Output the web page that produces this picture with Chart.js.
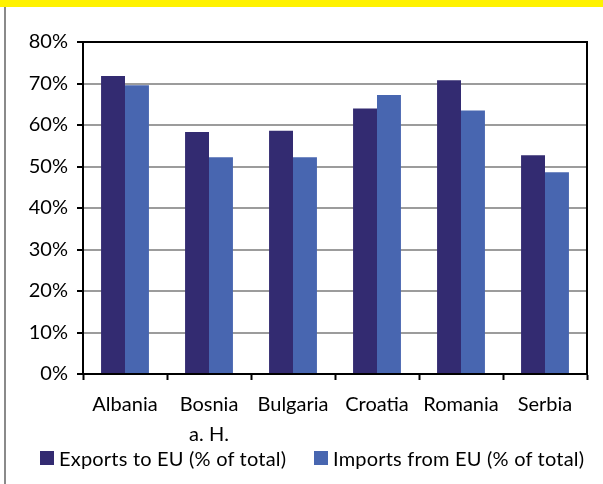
<!DOCTYPE html>
<html>
<head>
<meta charset="utf-8">
<script src="https://cdn.jsdelivr.net/npm/chart.js@4.4.1/dist/chart.umd.min.js"></script>
<style>
  html, body { margin: 0; padding: 0; background: #fff; }
  #wrap { position: relative; width: 603px; height: 484px; overflow: hidden; font-family: Lato, 'Open Sans', sans-serif; }
  #band { position: absolute; left: 0; top: 0; width: 603px; height: 7px; background: #fff200; }
  #edge { position: absolute; left: 4px; top: 7px; width: 2px; height: 477px; background: #8a8a8a; }
  #chart { position: absolute; left: 0; top: 0; }
  .key { position: absolute; top: 446px; height: 24px; line-height: 24px; font-size: 20px; color: #000; letter-spacing: 0.2px; white-space: nowrap; }
  .key i { position: absolute; top: 5px; width: 14px; height: 14px; }
  .key span { position: absolute; left: 19px; top: 0; }
</style>
</head>
<body>
<div id="wrap">
  <div id="band"></div>
  <div id="edge"></div>
  <canvas id="chart" width="603" height="484"></canvas>
  <div id="legend"></div>
</div>
<script>
const countries = ["Albania", ["Bosnia", "a. H."], "Bulgaria", "Croatia", "Romania", "Serbia"];
const exportsToEU = [71.8, 58.3, 58.6, 64.0, 70.8, 52.7];
const importsFromEU = [69.6, 52.2, 52.2, 67.2, 63.5, 48.6];
const yTicks = [0, 10, 20, 30, 40, 50, 60, 70, 80];
const seriesNames = ["Exports to EU (% of total)", "Imports from EU (% of total)"];
const seriesColors = ["#332b71", "#4866b0"];

const FONT = "Lato, 'Open Sans', sans-serif";

// black frame round the plot area
const frame = {
    id: "frame",
    afterDraw(chart) {
        const { ctx, chartArea: a } = chart;
        ctx.save();
        ctx.strokeStyle = "#000";
        ctx.lineWidth = 2;
        ctx.strokeRect(a.left, a.top, a.right - a.left, a.bottom - a.top);
        ctx.restore();
    }
};

const chart = new Chart(document.getElementById("chart").getContext("2d"), {
    type: "bar",
    data: {
        labels: countries,
        datasets: [{
            label: seriesNames[0],
            data: exportsToEU,
            backgroundColor: seriesColors[0]
        }, {
            label: seriesNames[1],
            data: importsFromEU,
            backgroundColor: seriesColors[1]
        }]
    },
    options: {
        responsive: false,
        animation: false,
        layout: { padding: { top: 42, right: 16, left: 0, bottom: 0 } },
        datasets: { bar: { categoryPercentage: 0.57, barPercentage: 1.0 } },
        plugins: {
            tooltip: { enabled: false },
            legend: { display: false }
        },
        scales: {
            x: {
                afterFit: s => { s.height = 110; },
                grid: { drawOnChartArea: false, drawTicks: true, tickLength: 6, tickColor: "#000", tickWidth: 2, offset: true },
                border: { color: "#000", width: 2 },
                ticks: { color: "#000", font: { family: FONT, size: 20, lineHeight: 1.5 }, padding: 10, maxRotation: 0, autoSkip: false }
            },
            y: {
                min: 0,
                max: 80,
                afterFit: s => { s.width = 83; },
                afterBuildTicks: s => { s.ticks = yTicks.map(v => ({ value: v })); },
                grid: { color: "#9c9c9c", lineWidth: 2, tickLength: 6, tickColor: "#000", tickWidth: 2 },
                border: { color: "#000", width: 2 },
                ticks: { color: "#000", font: { family: FONT, size: 20 }, padding: 9, callback: v => v + "%" }
            }
        }
    },
    plugins: [frame]
});

// legend below the axis, built from the datasets
const legend = document.getElementById("legend");
const keyLeft = [40, 314];
chart.data.datasets.forEach((ds, i) => {
    const el = document.createElement("div");
    el.className = "key";
    el.style.left = keyLeft[i] + "px";
    el.innerHTML = `<i style="background:${ds.backgroundColor}"></i><span>${ds.label}</span>`;
    legend.appendChild(el);
});
</script>
</body>
</html>
